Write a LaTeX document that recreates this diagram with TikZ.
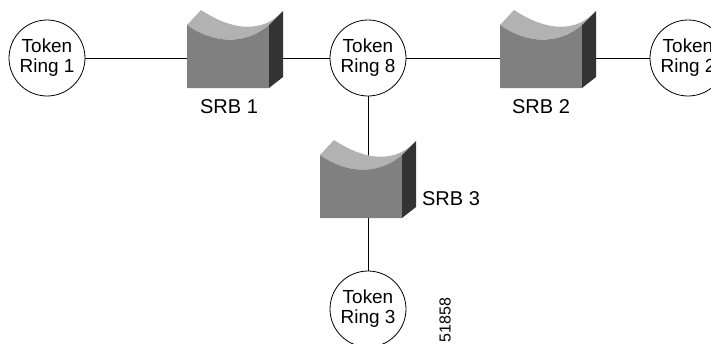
\documentclass[tikz,border=0pt]{standalone}
\usepackage{fontspec}
\setmainfont{Liberation Sans}
\tikzset{
  ring/.style={draw,line width=0.6pt,circle,fill=white,minimum size=57pt,inner sep=0pt,align=center,font=\fontsize{14.2}{15}\selectfont},
  srbnode/.style={minimum width=72pt,minimum height=42pt,inner sep=0pt},
  srblabel/.style={font=\fontsize{15}{15}\selectfont},
  link/.style={black,line width=0.6pt}
}
% bridge drawn from the top left corner of its front face
\newcommand{\srbshape}[2]{%
\fill[black!30] (#1+14,#2-15) .. controls (#1+35,#2-1) and (#1+70,#2+14) .. (#1+96,#2-14) -- (#1+82,#2) .. controls (#1+58,#2+21) and (#1+25,#2+18) .. (#1,#2) -- cycle;
\fill[black!50] (#1,#2) .. controls (#1+25,#2+18) and (#1+58,#2+21) .. (#1+82,#2) -- (#1+82,#2+63) -- (#1,#2+63) -- cycle;
\fill[black!80] (#1+82,#2) -- (#1+96,#2-14) -- (#1+96,#2+52) -- (#1+82,#2+63) -- cycle;
}
\begin{document}
\begin{tikzpicture}[x=0.75pt,y=-0.75pt]
\useasboundingbox (0,0) rectangle (711,343);

% Rings
\node[ring] (R1) at (47,58) {Token\\Ring 1};
\node[ring] (R8) at (368,58) {Token\\Ring 8};
\node[ring] (R2) at (688,58) {Token\\Ring 2};
\node[ring] (R3) at (368,309) {Token\\Ring 3};

% Bridges
\node[srbnode] (B1) at (235,58) {};
\node[srbnode] (B2) at (548,58) {};
\node[srbnode,minimum height=40pt] (B3) at (368,190) {};

% Links
\draw[link] (R1) -- (B1);
\draw[link] (B1) -- (R8);
\draw[link] (R8) -- (B2);
\draw[link] (B2) -- (R2);
\draw[link] (R8) -- (B3);
\draw[link] (B3) -- (R3);

\srbshape{187}{25}
\srbshape{500}{25}
\srbshape{320}{155}

% Names
\node[srblabel] (S1) at (229,107) {SRB 1};
\node[srblabel] (S2) at (541,107) {SRB 2};
\node[srblabel] (S3) at (451,199) {SRB 3};
\node[font=\fontsize{12}{13}\selectfont,rotate=90] (fig) at (445,320) {51858};
\end{tikzpicture}
\end{document}
